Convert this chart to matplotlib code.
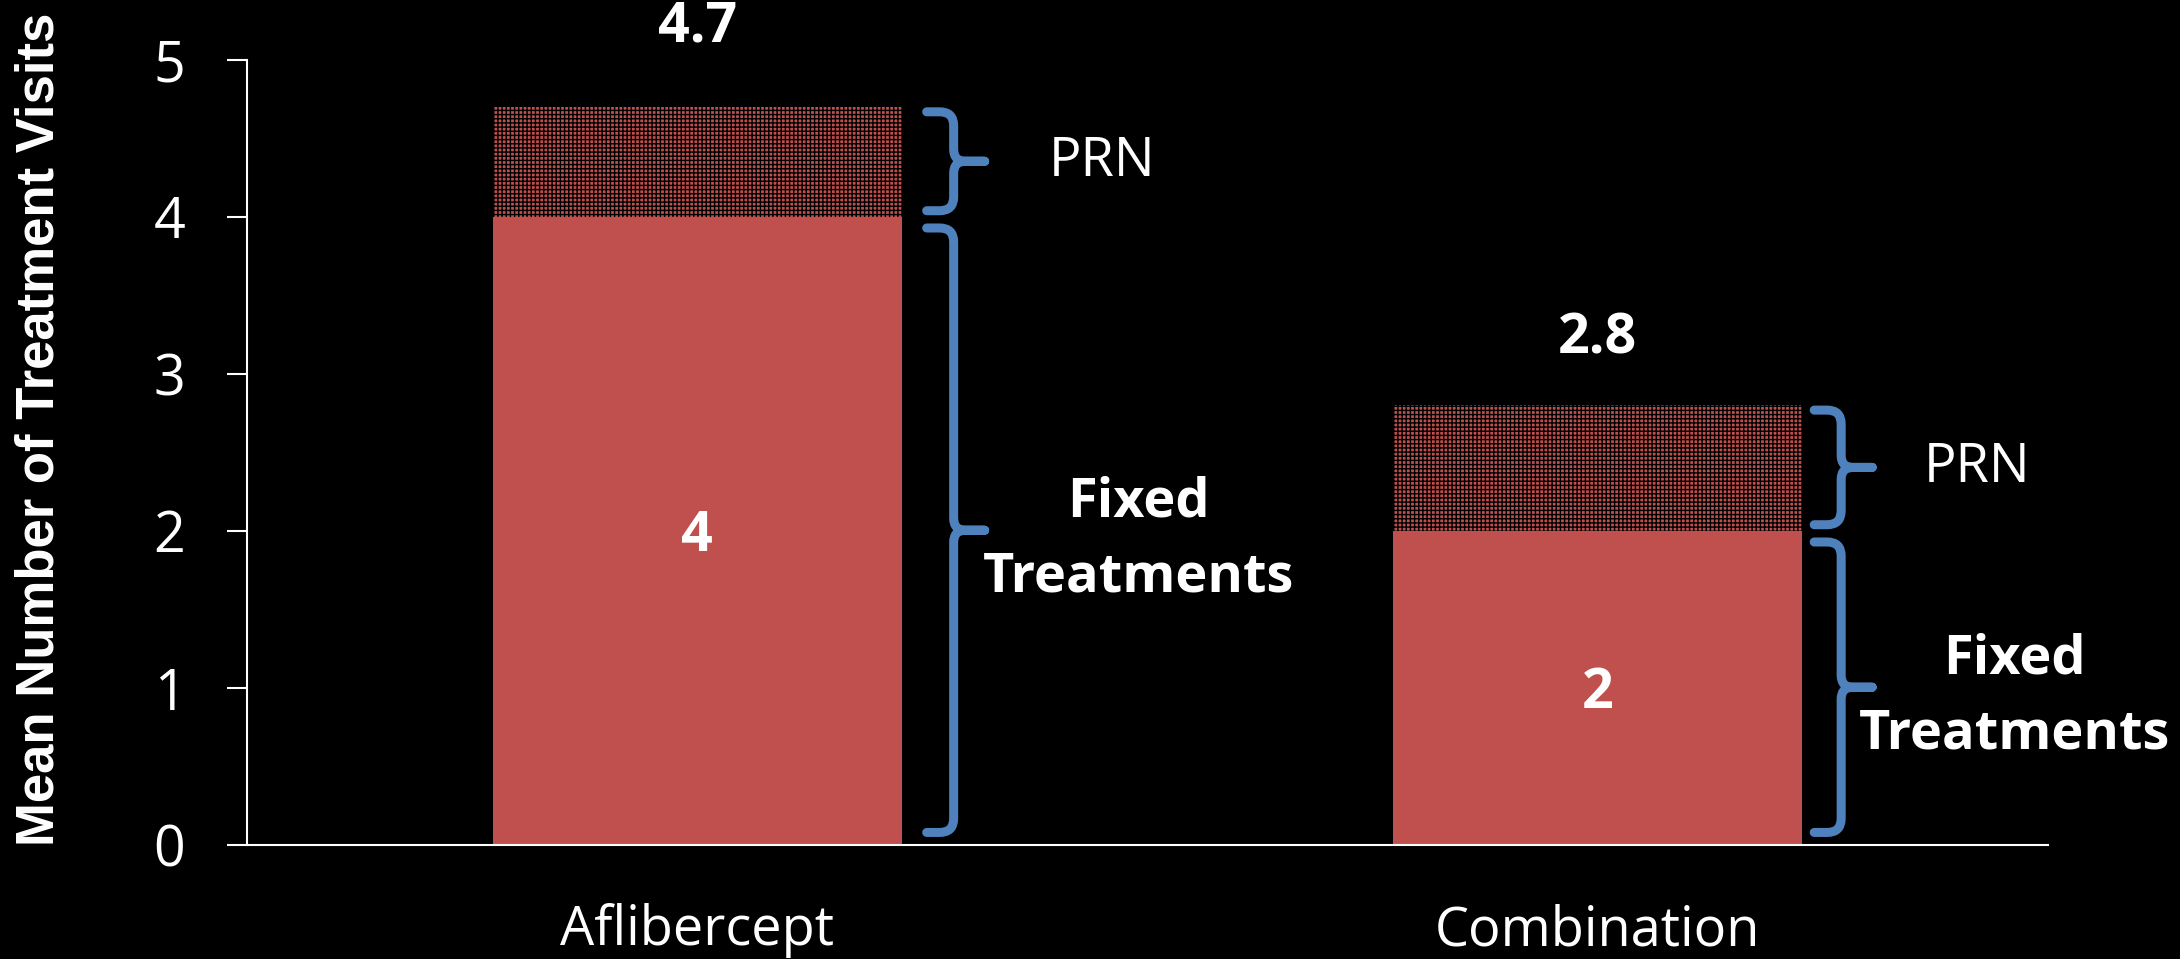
import matplotlib
matplotlib.use("Agg")
import matplotlib.pyplot as plt
from matplotlib.path import Path
from matplotlib.patches import PathPatch
import numpy as np

# ---- data -------------------------------------------------------------
categories = ["Aflibercept", "Combination"]
fixed_visits = [4, 2]          # fixed treatments (solid segment)
total_visits = [4.7, 2.8]      # fixed + PRN (label above each bar)
y_ticks = [0, 1, 2, 3, 4, 5]

# ---- styling ----------------------------------------------------------
RED = "#C0504D"
BLUE = "#4F81BD"
TEXT_FONT = ["Open Sans", "DejaVu Sans"]
NARROW_FONT = ["Liberation Sans Narrow", "Liberation Sans", "DejaVu Sans"]

plt.rcParams["hatch.linewidth"] = 1.0
plt.rcParams["font.family"] = TEXT_FONT

W, H = 2180, 959
fig = plt.figure(figsize=(W / 100, H / 100), dpi=100, facecolor="black")
ax = fig.add_axes([247 / W, 114 / H, 1801 / W, 785 / H])
ax.set_facecolor("black")

x = np.arange(len(categories))
fixed = np.array(fixed_visits, dtype=float)
total = np.array(total_visits, dtype=float)
prn = total - fixed
bar_w = 0.454

ax.bar(x, fixed, width=bar_w, color=RED, linewidth=0, zorder=2)
ax.bar(x, prn, bottom=fixed, width=bar_w, facecolor=RED, edgecolor="black",
       hatch="++++", linewidth=0, zorder=2)

ax.set_xlim(-0.5, 1.5)
ax.set_ylim(0, 5)
ax.set_yticks(y_ticks)
ax.set_xticks(x)
ax.set_xticklabels(categories)

for side in ("top", "right"):
    ax.spines[side].set_visible(False)
for side in ("left", "bottom"):
    ax.spines[side].set_color("white")
    ax.spines[side].set_linewidth(1.5)

ax.tick_params(axis="y", direction="out", length=14.4, width=1.5,
               colors="white", labelsize=40, pad=30)
ax.tick_params(axis="x", length=0, pad=42, labelsize=39, colors="white")

fig.text(40 / W, 0.552, "Mean Number of Treatment Visits", rotation=90,
         ha="center", va="center", color="white", fontsize=38,
         fontweight="bold", family=NARROW_FONT)

# value labels: baseline sits at the bottom of the digits
total_label_gap = [66, 52]
for xi, t, gap in zip(x, total, total_label_gap):
    ax.annotate(f"{t:g}", xy=(xi, t), xytext=(0, gap),
                textcoords="offset pixels", ha="center", va="baseline",
                color="white", fontsize=40, fontweight="bold")
for xi, f in zip(x, fixed):
    ax.annotate(f"{f:g}", xy=(xi, f / 2), xytext=(0, -20),
                textcoords="offset pixels", ha="center", va="baseline",
                color="white", fontsize=40, fontweight="bold")


# ---- curly braces next to each segment --------------------------------
def draw_brace(ax, x_edge, y_bottom, y_top, hook_px, line_px, tip_px):
    """Right-pointing curly brace; x offsets in pixels from the bar edge."""
    to_px = ax.transData
    ex, yb = to_px.transform((x_edge, y_bottom))
    _, yt = to_px.transform((x_edge, y_top))
    xh, xl, xt = ex + hook_px, ex + line_px, ex + tip_px
    ym = (yt + yb) / 2
    r, r2 = 14, 12
    verts = [
        (xh, yt), (xl - r, yt), (xl, yt), (xl, yt - r),
        (xl, ym + r2), (xl, ym), (xl + r2, ym), (xt, ym),
        (xl + r2, ym), (xl, ym), (xl, ym - r2),
        (xl, yb + r), (xl, yb), (xl - r, yb), (xh, yb),
    ]
    codes = [
        Path.MOVETO, Path.LINETO, Path.CURVE3, Path.CURVE3,
        Path.LINETO, Path.CURVE3, Path.CURVE3, Path.LINETO,
        Path.LINETO, Path.CURVE3, Path.CURVE3,
        Path.LINETO, Path.CURVE3, Path.CURVE3, Path.LINETO,
    ]
    data_verts = to_px.inverted().transform(verts)
    ax.add_patch(PathPatch(Path(data_verts, codes), fill=False,
                           edgecolor=BLUE, linewidth=6.5, capstyle="round",
                           joinstyle="round", clip_on=False, zorder=3))
    return xt, ym


hook_offsets = [25, 12]
prn_text_dx = [117, 105]
fixed_text_dx = [154, 142]

for i, xi in enumerate(x):
    edge = xi + bar_w / 2
    h = hook_offsets[i]
    # fixed segment brace
    xt, ym = draw_brace(ax, edge, 0.08, fixed[i] - 0.07, h, h + 27, h + 58)
    ax.annotate("Fixed\nTreatments", xy=(xt, ym), xycoords="figure pixels",
                xytext=(fixed_text_dx[i], -10), textcoords="offset pixels",
                ha="center", va="center", color="white", fontsize=39,
                fontweight="bold", linespacing=1.5)
    # PRN segment brace
    xt, ym = draw_brace(ax, edge, fixed[i] + 0.04, total[i] - 0.03,
                        h, h + 27, h + 58)
    ax.annotate("PRN", xy=(xt, ym), xycoords="figure pixels",
                xytext=(prn_text_dx[i], 0), textcoords="offset pixels",
                ha="center", va="center", color="white", fontsize=39)

fig.savefig("out.png", dpi=100, facecolor="black")
